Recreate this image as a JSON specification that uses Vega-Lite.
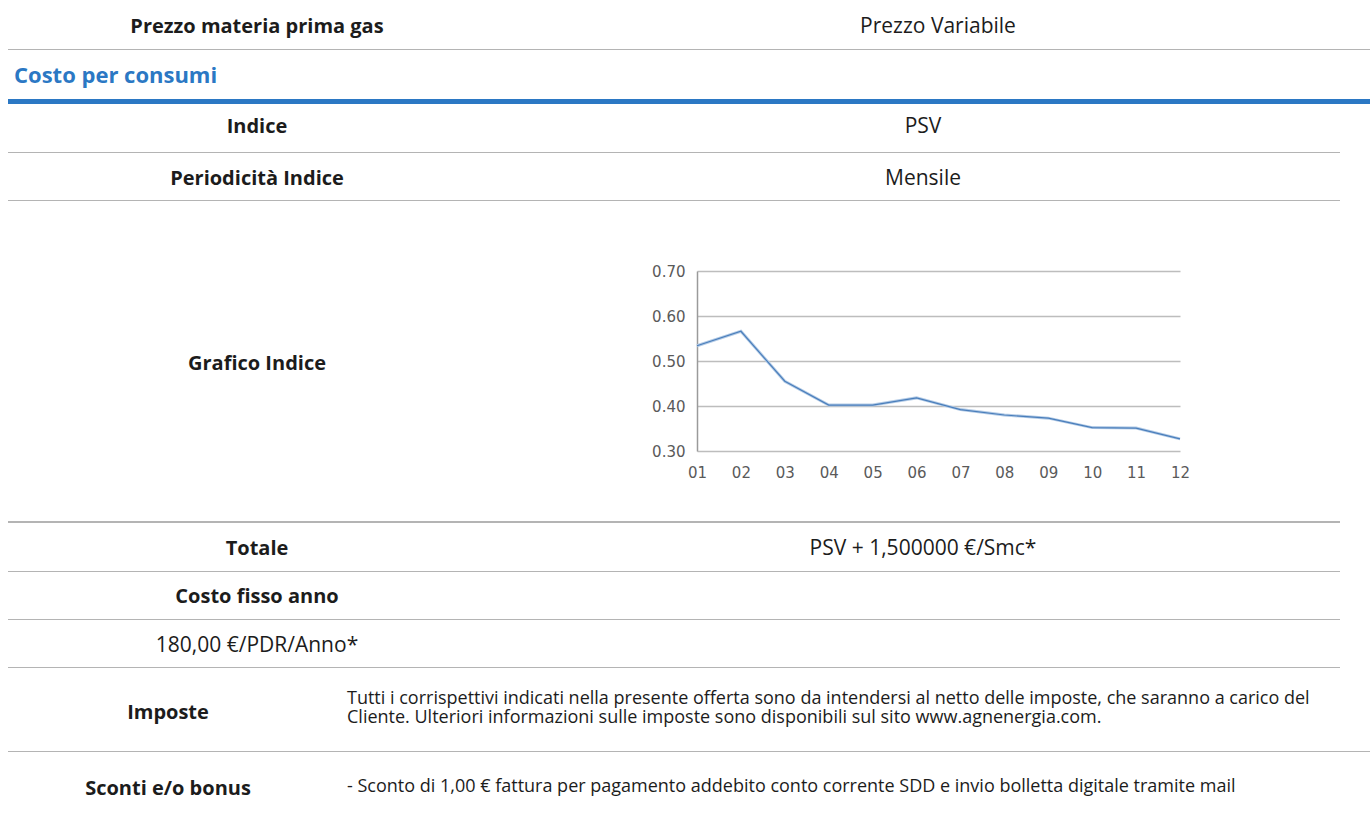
{
  "$schema": "https://vega.github.io/schema/vega-lite/v6.json",
  "padding": {"left": 8, "top": 0, "right": 0, "bottom": 0},
  "background": "white",
  "spacing": 0,
  "config": {
    "view": {"stroke": null},
    "text": {"font": "Open Sans", "fontSize": 21, "color": "#1c1c1c"},
    "rule": {"color": "#b4b4b4", "strokeWidth": 2, "yOffset": -1}
  },
  "resolve": {"scale": {"x": "independent", "y": "independent"}},
  "vconcat": [
    {
      "spacing": 0, "bounds": "flush",
      "resolve": {"scale": {"x": "independent", "y": "independent"}},
      "hconcat": [
        {"width": 498, "height": 50, "data": {"values": [{"t": "Prezzo materia prima gas"}]},
         "layer": [
          {"mark": {"type": "text", "fontWeight": "bold", "fontSize": 20, "dy": 2}, "encoding": {"text": {"field": "t"}}},
          {"mark": {"type": "rule", "clip": true}, "encoding": {"y": {"datum": 0, "type": "quantitative", "scale": {"domain": [0, 1]}, "axis": null}}}
         ]},
        {"width": 864, "height": 50, "data": {"values": [{"t": "Prezzo Variabile"}]},
         "layer": [
          {"mark": {"type": "text", "dy": 2}, "encoding": {"text": {"field": "t"}}},
          {"mark": {"type": "rule", "clip": true}, "encoding": {"y": {"datum": 0, "type": "quantitative", "scale": {"domain": [0, 1]}, "axis": null}}}
         ]}
      ]
    },
    {
      "width": 1362, "height": 54, "data": {"values": [{"t": "Costo per consumi"}]},
      "layer": [
        {"mark": {"type": "text", "fontWeight": "bold", "fontSize": 22, "color": "#2b78c4", "align": "left", "dx": 6, "dy": -1},
         "encoding": {"text": {"field": "t"}, "x": {"datum": 0, "type": "quantitative", "scale": {"domain": [0, 1]}, "axis": null}}},
        {"mark": {"type": "rule", "clip": true, "color": "#2b78c4", "strokeWidth": 5, "yOffset": -2.5}, "encoding": {"y": {"datum": 0, "type": "quantitative", "scale": {"domain": [0, 1]}, "axis": null}}}
      ]
    },
    {
      "spacing": 0, "bounds": "flush",
      "resolve": {"scale": {"x": "independent", "y": "independent"}},
      "hconcat": [
        {"width": 498, "height": 49, "data": {"values": [{"t": "Indice"}]},
         "layer": [
          {"mark": {"type": "text", "fontWeight": "bold", "fontSize": 20, "dy": -1.5}, "encoding": {"text": {"field": "t"}}},
          {"mark": {"type": "rule", "clip": true}, "encoding": {"y": {"datum": 0, "type": "quantitative", "scale": {"domain": [0, 1]}, "axis": null}}}
         ]},
        {"width": 834, "height": 49, "data": {"values": [{"t": "PSV"}]},
         "layer": [
          {"mark": {"type": "text", "dy": -1.5}, "encoding": {"text": {"field": "t"}}},
          {"mark": {"type": "rule", "clip": true}, "encoding": {"y": {"datum": 0, "type": "quantitative", "scale": {"domain": [0, 1]}, "axis": null}}}
         ]}
      ]
    },
    {
      "spacing": 0, "bounds": "flush",
      "resolve": {"scale": {"x": "independent", "y": "independent"}},
      "hconcat": [
        {"width": 498, "height": 48, "data": {"values": [{"t": "Periodicità Indice"}]},
         "layer": [
          {"mark": {"type": "text", "fontWeight": "bold", "fontSize": 20, "dy": 1.5}, "encoding": {"text": {"field": "t"}}},
          {"mark": {"type": "rule", "clip": true}, "encoding": {"y": {"datum": 0, "type": "quantitative", "scale": {"domain": [0, 1]}, "axis": null}}}
         ]},
        {"width": 834, "height": 48, "data": {"values": [{"t": "Mensile"}]},
         "layer": [
          {"mark": {"type": "text", "dy": 1.5}, "encoding": {"text": {"field": "t"}}},
          {"mark": {"type": "rule", "clip": true}, "encoding": {"y": {"datum": 0, "type": "quantitative", "scale": {"domain": [0, 1]}, "axis": null}}}
         ]}
      ]
    },
    {
      "spacing": 0, "bounds": "flush", "center": true,
      "resolve": {"scale": {"x": "independent", "y": "independent"}},
      "hconcat": [
        {"width": 498, "height": 320, "data": {"values": [{"t": "Grafico Indice"}]},
         "mark": {"type": "text", "fontWeight": "bold", "fontSize": 20, "dy": 2.5}, "encoding": {"text": {"field": "t"}}},
        {"width": 191, "height": 320, "data": {"values": []}, "mark": "text", "encoding": {}},
        {
          "width": 483, "height": 180,
          "data": {"values": [
            {"mese": "01", "psv": 0.534},
            {"mese": "02", "psv": 0.566},
            {"mese": "03", "psv": 0.455},
            {"mese": "04", "psv": 0.402},
            {"mese": "05", "psv": 0.402},
            {"mese": "06", "psv": 0.418},
            {"mese": "07", "psv": 0.392},
            {"mese": "08", "psv": 0.380},
            {"mese": "09", "psv": 0.373},
            {"mese": "10", "psv": 0.352},
            {"mese": "11", "psv": 0.351},
            {"mese": "12", "psv": 0.327}
          ]},
          "encoding": {
            "x": {"field": "mese", "type": "ordinal", "scale": {"type": "point", "padding": 0},
                  "axis": {"title": null, "ticks": false, "domain": false, "grid": false, "labelAngle": 0,
                           "labelFont": "DejaVu Sans", "labelFontSize": 15, "labelColor": "#5a5a5a", "labelPadding": 14}},
            "y": {"field": "psv", "type": "quantitative", "scale": {"domain": [0.3, 0.7], "nice": false, "zero": false},
                  "axis": {"title": null, "tickCount": 4, "format": ".2f", "ticks": false, "domain": true,
                           "domainColor": "#9a9a9a", "domainWidth": 1.5, "grid": true, "gridColor": "#bdbdbd", "gridWidth": 1.5,
                           "labelFont": "DejaVu Sans", "labelFontSize": 15, "labelColor": "#5a5a5a", "labelPadding": 12}}
          },
          "layer": [
            {"mark": {"type": "line", "color": "#b3cbe6", "strokeWidth": 3}},
            {"mark": {"type": "line", "color": "#4a7ebb", "strokeWidth": 1.2}}
          ]
        },
        {"width": 160, "height": 320, "data": {"values": []}, "mark": "text", "encoding": {}}
      ]
    },
    {
      "spacing": 0, "bounds": "flush",
      "resolve": {"scale": {"x": "independent", "y": "independent"}},
      "hconcat": [
        {"width": 498, "height": 51, "data": {"values": [{"t": "Totale"}]},
         "layer": [
          {"mark": {"type": "text", "fontWeight": "bold", "fontSize": 20, "dy": 2}, "encoding": {"text": {"field": "t"}}},
          {"mark": {"type": "rule", "clip": true, "yOffset": 1}, "encoding": {"y": {"datum": 1, "type": "quantitative", "scale": {"domain": [0, 1]}, "axis": null}}},
          {"mark": {"type": "rule", "clip": true}, "encoding": {"y": {"datum": 0, "type": "quantitative", "scale": {"domain": [0, 1]}, "axis": null}}}
         ]},
        {"width": 834, "height": 51, "data": {"values": [{"t": "PSV + 1,500000 €/Smc*"}]},
         "layer": [
          {"mark": {"type": "text", "dy": 2}, "encoding": {"text": {"field": "t"}}},
          {"mark": {"type": "rule", "clip": true, "yOffset": 1}, "encoding": {"y": {"datum": 1, "type": "quantitative", "scale": {"domain": [0, 1]}, "axis": null}}},
          {"mark": {"type": "rule", "clip": true}, "encoding": {"y": {"datum": 0, "type": "quantitative", "scale": {"domain": [0, 1]}, "axis": null}}}
         ]}
      ]
    },
    {
      "spacing": 0, "bounds": "flush",
      "resolve": {"scale": {"x": "independent", "y": "independent"}},
      "hconcat": [
        {"width": 498, "height": 48, "data": {"values": [{"t": "Costo fisso anno"}]},
         "layer": [
          {"mark": {"type": "text", "fontWeight": "bold", "fontSize": 20, "dy": 1}, "encoding": {"text": {"field": "t"}}},
          {"mark": {"type": "rule", "clip": true}, "encoding": {"y": {"datum": 0, "type": "quantitative", "scale": {"domain": [0, 1]}, "axis": null}}}
         ]},
        {"width": 834, "height": 48, "data": {"values": [{"t": ""}]},
         "mark": {"type": "rule", "clip": true}, "encoding": {"y": {"datum": 0, "type": "quantitative", "scale": {"domain": [0, 1]}, "axis": null}}}
      ]
    },
    {
      "spacing": 0, "bounds": "flush",
      "resolve": {"scale": {"x": "independent", "y": "independent"}},
      "hconcat": [
        {"width": 498, "height": 48, "data": {"values": [{"t": "180,00 €/PDR/Anno*"}]},
         "layer": [
          {"mark": {"type": "text", "dy": 2}, "encoding": {"text": {"field": "t"}}},
          {"mark": {"type": "rule", "clip": true}, "encoding": {"y": {"datum": 0, "type": "quantitative", "scale": {"domain": [0, 1]}, "axis": null}}}
         ]},
        {"width": 834, "height": 48, "data": {"values": [{"t": ""}]},
         "mark": {"type": "rule", "clip": true}, "encoding": {"y": {"datum": 0, "type": "quantitative", "scale": {"domain": [0, 1]}, "axis": null}}}
      ]
    },
    {
      "spacing": 0, "bounds": "flush",
      "resolve": {"scale": {"x": "independent", "y": "independent"}},
      "hconcat": [
        {"width": 320, "height": 84, "data": {"values": [{"t": "Imposte"}]},
         "layer": [
          {"mark": {"type": "text", "fontWeight": "bold", "fontSize": 20, "dy": 3}, "encoding": {"text": {"field": "t"}}},
          {"mark": {"type": "rule", "clip": true}, "encoding": {"y": {"datum": 0, "type": "quantitative", "scale": {"domain": [0, 1]}, "axis": null}}}
         ]},
        {"width": 1042, "height": 84, "data": {"values": [{"t": "Tutti i corrispettivi indicati nella presente offerta sono da intendersi al netto delle imposte, che saranno a carico del\nCliente. Ulteriori informazioni sulle imposte sono disponibili sul sito www.agnenergia.com."}]},
         "layer": [
          {"mark": {"type": "text", "fontSize": 18, "align": "left", "dx": 19, "dy": -11, "lineBreak": "\n", "lineHeight": 19},
           "encoding": {"text": {"field": "t"}, "x": {"datum": 0, "type": "quantitative", "scale": {"domain": [0, 1]}, "axis": null}}},
          {"mark": {"type": "rule", "clip": true}, "encoding": {"y": {"datum": 0, "type": "quantitative", "scale": {"domain": [0, 1]}, "axis": null}}}
         ]}
      ]
    },
    {
      "spacing": 0, "bounds": "flush",
      "resolve": {"scale": {"x": "independent", "y": "independent"}},
      "hconcat": [
        {"width": 320, "height": 62, "data": {"values": [{"t": "Sconti e/o bonus"}]},
         "mark": {"type": "text", "fontWeight": "bold", "fontSize": 20, "dy": 6}, "encoding": {"text": {"field": "t"}}},
        {"width": 1042, "height": 62, "data": {"values": [{"t": "- Sconto di 1,00 € fattura per pagamento addebito conto corrente SDD e invio bolletta digitale tramite mail"}]},
         "mark": {"type": "text", "fontSize": 18, "align": "left", "dx": 19, "dy": 4},
         "encoding": {"text": {"field": "t"}, "x": {"datum": 0, "type": "quantitative", "scale": {"domain": [0, 1]}, "axis": null}}}
      ]
    }
  ]
}
